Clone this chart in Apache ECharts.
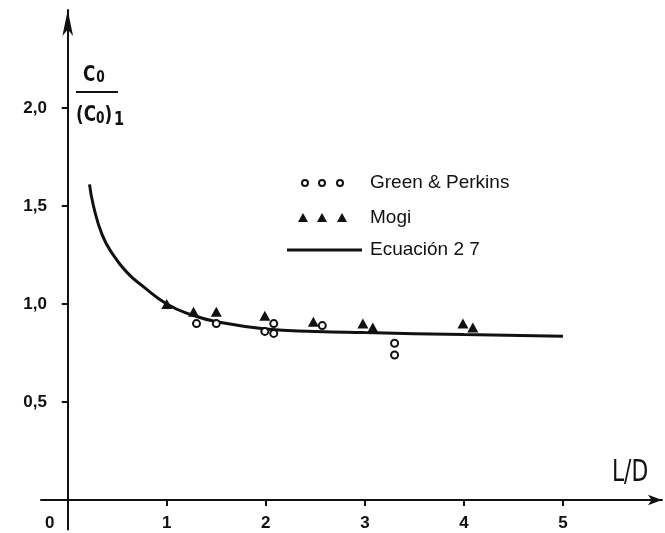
<!DOCTYPE html>
<html>
<head>
<meta charset="utf-8">
<script src="https://cdn.jsdelivr.net/npm/echarts@6/dist/echarts.min.js"></script>
<style>
html,body{margin:0;padding:0;background:#fff;}
#c{width:665px;height:533px;}
</style>
</head>
<body>
<div id="c"></div>
<script>
// ---- data ----
const xTickValues = [1, 2, 3, 4, 5];
const xLabelValues = [0, 1, 2, 3, 4, 5];
const yTickValues = [0.5, 1.0, 1.5, 2.0];

const seriesNames = ['Green & Perkins', 'Mogi', 'Ecuación 2 7'];

const greenPerkins = [
  [1.30, 0.90], [1.50, 0.90], [1.99, 0.86], [2.08, 0.90], [2.08, 0.85],
  [2.57, 0.89], [3.30, 0.80], [3.30, 0.74]
];
const mogi = [
  [1.00, 1.00], [1.27, 0.96], [1.50, 0.96], [1.99, 0.94], [2.48, 0.91],
  [2.98, 0.90], [3.08, 0.88], [3.99, 0.90], [4.09, 0.88]
];
const ecuacion = [
  [0.22, 1.61], [0.26, 1.50], [0.35, 1.35], [0.46, 1.25], [0.60, 1.16],
  [0.76, 1.09], [1.00, 1.00], [1.25, 0.945], [1.50, 0.91],
  [2.00, 0.873], [2.50, 0.86], [3.00, 0.854], [4.00, 0.844], [5.00, 0.835]
];

const chart = echarts.init(document.getElementById('c'), null, {renderer: 'canvas'});
const ink = '#111';
const tickFont = {fontFamily: 'Liberation Sans, Arial, sans-serif', fontSize: 17, fontWeight: 'bold', color: ink};
const condensed = 'DejaVu Sans Condensed, DejaVu Sans';

const option = {
  backgroundColor: '#fff',
  animation: false,
  grid: {left: 41, right: 3, top: 10, bottom: 3.6, containLabel: false, outerBoundsMode: 'none'},
  xAxis: {
    type: 'value', min: -0.27, max: 6,
    axisLine: {show: true, onZero: true, lineStyle: {color: ink, width: 2},
      symbol: ['none', 'arrow'], symbolSize: [8, 14]},
    axisTick: {show: true, customValues: xTickValues, length: 6, lineStyle: {color: ink, width: 2}},
    axisLabel: Object.assign({}, tickFont, {
      customValues: xLabelValues, margin: -15,
      formatter: v => v === 0 ? '{z|0}' : String(v),
      rich: {z: Object.assign({}, tickFont, {padding: [0, 36, 0, 0]})}
    }),
    splitLine: {show: false}
  },
  yAxis: {
    type: 'value', min: -0.15, max: 2.5,
    axisLine: {show: true, onZero: true, lineStyle: {color: ink, width: 2},
      symbol: ['none', 'arrow'], symbolSize: [8, 26]},
    axisTick: {show: true, customValues: yTickValues, length: 6, lineStyle: {color: ink, width: 2}},
    axisLabel: Object.assign({}, tickFont, {
      customValues: yTickValues, margin: -6,
      formatter: v => v.toFixed(1).replace('.', ',')
    }),
    splitLine: {show: false}
  },
  series: [
    {
      name: seriesNames[2], type: 'line', data: ecuacion, smooth: 0.5,
      showSymbol: false, symbol: 'none', lineStyle: {color: ink, width: 3}, z: 2
    },
    {
      name: seriesNames[1], type: 'scatter', data: mogi, symbol: 'triangle', symbolSize: [11, 10],
      itemStyle: {color: ink, opacity: 1}, z: 3
    },
    {
      name: seriesNames[0], type: 'scatter', data: greenPerkins, symbol: 'circle', symbolSize: 7,
      itemStyle: {color: '#fff', borderColor: ink, borderWidth: 2, opacity: 1}, z: 4
    }
  ],
  graphic: [
    // y-axis title: C0 / (C0)1
    {type: 'text', x: 83, y: 64, scaleX: 0.85, style: {
      text: '{c|C}{s|0}', rich: {
        c: {fontFamily: condensed, fontSize: 22, fontWeight: 'bold', fill: ink},
        s: {fontFamily: condensed, fontSize: 16, fontWeight: 'bold', fill: ink, padding: [6, 0, 0, 1]}
      }}},
    {type: 'line', shape: {x1: 76, y1: 92, x2: 118, y2: 92}, style: {stroke: ink, lineWidth: 2}},
    {type: 'text', x: 76, y: 101, scaleX: 0.85, style: {
      text: '{c|(C}{s|0}{c|)}{t|1}', rich: {
        c: {fontFamily: condensed, fontSize: 22, fontWeight: 'bold', fill: ink},
        s: {fontFamily: condensed, fontSize: 16, fontWeight: 'bold', fill: ink, padding: [7, 0, 0, 0]},
        t: {fontFamily: condensed, fontSize: 19, fontWeight: 'bold', fill: ink, padding: [10, 0, 0, 2]}
      }}},
    // x-axis title
    {type: 'text', x: 612, y: 457, scaleX: 0.78, style: {
      text: 'L/D', fontFamily: condensed, fontSize: 31, fill: ink}},
    // legend
    {type: 'circle', shape: {cx: 305, cy: 183, r: 3}, style: {fill: '#fff', stroke: ink, lineWidth: 2}},
    {type: 'circle', shape: {cx: 322, cy: 183, r: 3}, style: {fill: '#fff', stroke: ink, lineWidth: 2}},
    {type: 'circle', shape: {cx: 340, cy: 183, r: 3}, style: {fill: '#fff', stroke: ink, lineWidth: 2}},
    {type: 'polygon', shape: {points: [[303, 213], [298, 222], [308, 222]]}, style: {fill: ink}},
    {type: 'polygon', shape: {points: [[322, 213], [317, 222], [327, 222]]}, style: {fill: ink}},
    {type: 'polygon', shape: {points: [[342, 213], [337, 222], [347, 222]]}, style: {fill: ink}},
    {type: 'line', shape: {x1: 287, y1: 250, x2: 362, y2: 250}, style: {stroke: ink, lineWidth: 3}},
    {type: 'text', left: 370, top: 173, style: {text: seriesNames[0], fontFamily: 'Liberation Sans, Arial', fontSize: 19, fill: ink}},
    {type: 'text', left: 370, top: 208, style: {text: seriesNames[1], fontFamily: 'Liberation Sans, Arial', fontSize: 19, fill: ink}},
    {type: 'text', left: 370, top: 240, style: {text: seriesNames[2], fontFamily: 'Liberation Sans, Arial', fontSize: 19, fill: ink}}
  ]
};
chart.setOption(option);
</script>
</body>
</html>
